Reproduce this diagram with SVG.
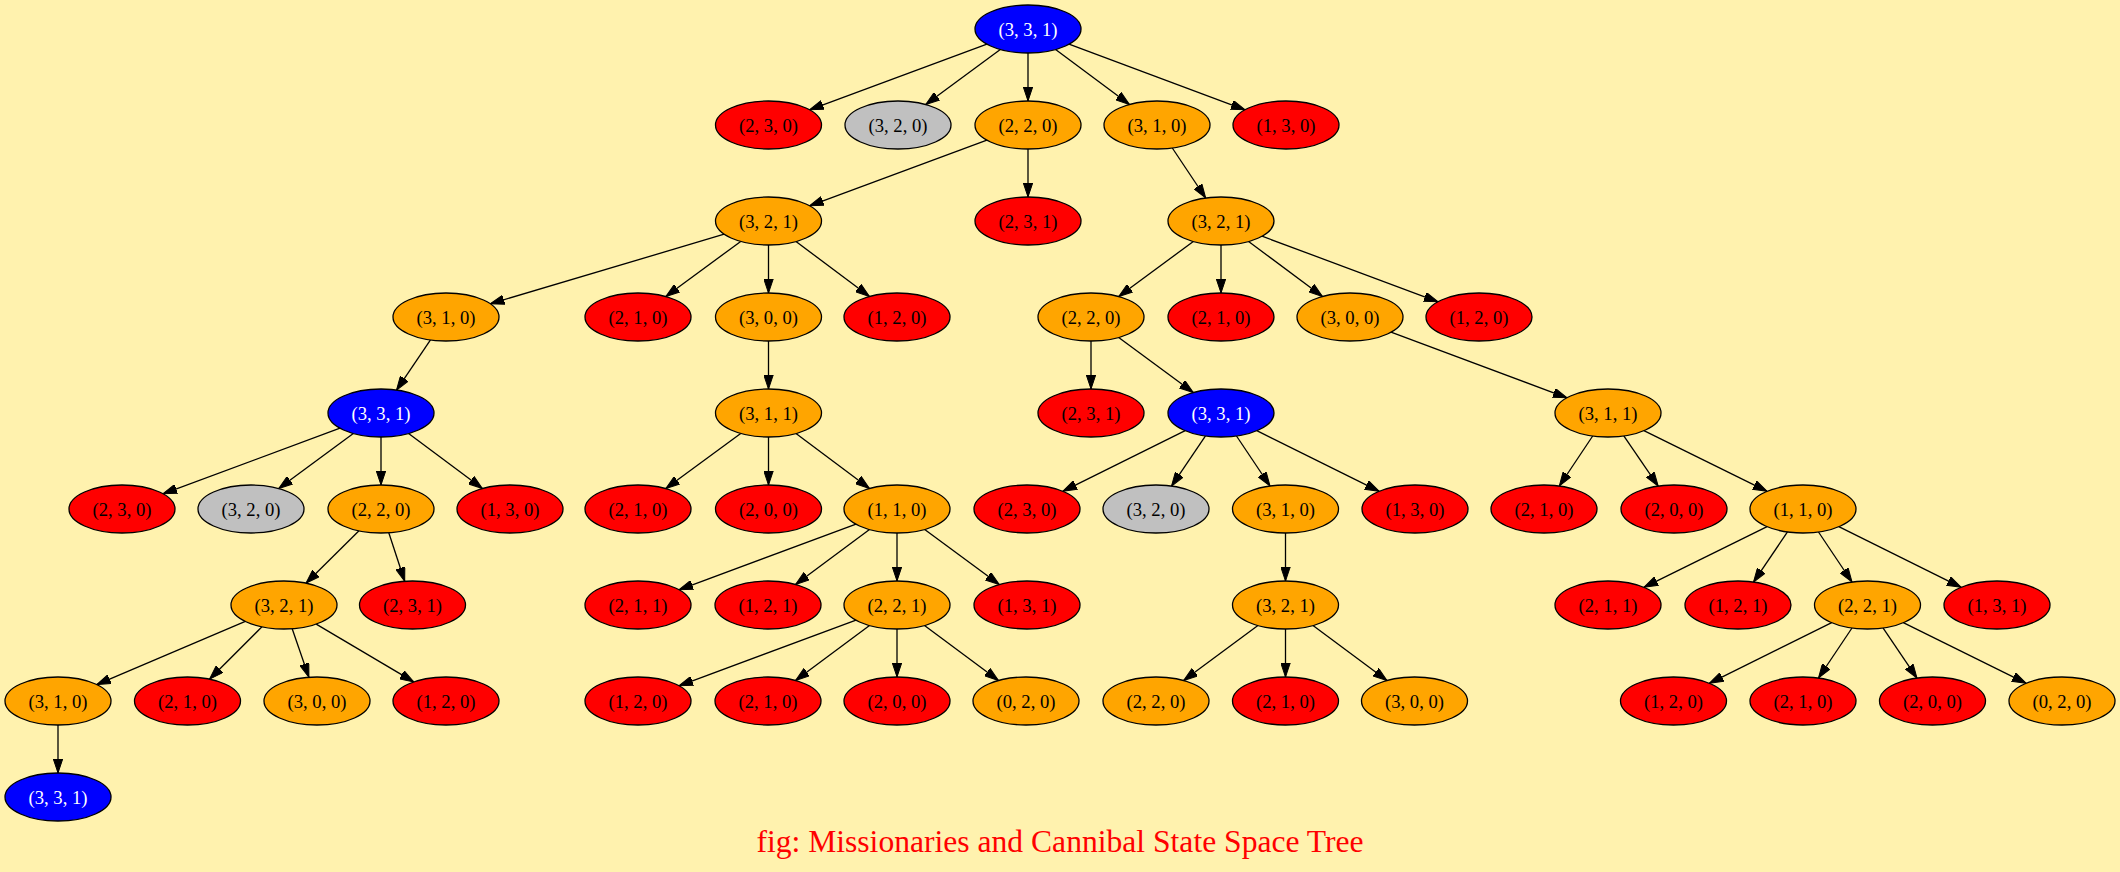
<svg xmlns="http://www.w3.org/2000/svg" width="2120" height="872" viewBox="0 0 2120 872">
<style>
.node ellipse{stroke:#000;stroke-width:1.3}
.b{fill:#0000ff}.r{fill:#ff0000}.o{fill:#ffa500}.g{fill:#c0c0c0}
.node text{font-family:"Liberation Serif","Times New Roman",serif;font-size:18.67px;text-anchor:middle;fill:#000}
.node text.w{fill:#fff}
#edges path{stroke:#000;stroke-width:1.3;fill:none;marker-end:url(#arr)}
.title{font-family:"Liberation Serif","Times New Roman",serif;font-size:31.6px;fill:#ff0000;text-anchor:middle}
</style>
<defs>
<marker id="arr" viewBox="0 0 14 10" markerWidth="14" markerHeight="10" refX="14" refY="5" orient="auto" markerUnits="userSpaceOnUse">
<path d="M0,0.3 L14,5 L0,9.7 z" fill="#000" stroke="#000" stroke-width="1"/>
</marker>
</defs>
<rect x="0" y="0" width="2120" height="872" fill="#fff2ae"/>
<g id="edges">
<path d="M986.9,44.2 L809.6,109.8"/>
<path d="M1000.3,49.5 L925.7,104.5"/>
<path d="M1028,53 L1028,101"/>
<path d="M1055.6,49.5 L1129.5,104.5"/>
<path d="M1069,44.2 L1245,109.8"/>
<path d="M986.9,140.2 L809.6,205.8"/>
<path d="M1028,149 L1028,197"/>
<path d="M1172.3,148 L1205.7,198"/>
<path d="M724.2,234.2 L490.3,303.8"/>
<path d="M740.7,241.4 L665.8,296.6"/>
<path d="M768.5,245 L768.5,293"/>
<path d="M796,241.5 L869.5,296.5"/>
<path d="M1193.3,241.5 L1118.7,296.5"/>
<path d="M1221,245 L1221,293"/>
<path d="M1248.6,241.5 L1322.5,296.5"/>
<path d="M1262,236.2 L1438,301.8"/>
<path d="M430.5,339.9 L396.5,390.1"/>
<path d="M768.5,341 L768.5,389"/>
<path d="M1091,341 L1091,389"/>
<path d="M1118.7,337.5 L1193.3,392.5"/>
<path d="M1391,332.2 L1567,397.8"/>
<path d="M340,428.2 L163,493.8"/>
<path d="M353.3,433.5 L278.7,488.5"/>
<path d="M381,437 L381,485"/>
<path d="M408.6,433.5 L482.4,488.5"/>
<path d="M740.7,433.4 L665.8,488.6"/>
<path d="M768.5,437 L768.5,485"/>
<path d="M796,433.5 L869.5,488.5"/>
<path d="M1185.2,430.7 L1062.8,491.3"/>
<path d="M1205.5,435.9 L1171.5,486.1"/>
<path d="M1236.5,436 L1270,486"/>
<path d="M1256.8,430.7 L1379.2,491.3"/>
<path d="M1592.7,436 L1559.3,486"/>
<path d="M1623.8,435.9 L1658.2,486.1"/>
<path d="M1643.9,430.7 L1767.1,491.3"/>
<path d="M359,530.8 L306,583.2"/>
<path d="M388.8,532.7 L404.7,581.3"/>
<path d="M856,524.2 L679,589.8"/>
<path d="M869.5,529.5 L795.5,584.5"/>
<path d="M897,533 L897,581"/>
<path d="M924.7,529.5 L999.3,584.5"/>
<path d="M1285.5,533 L1285.5,581"/>
<path d="M1767.1,526.7 L1643.9,587.3"/>
<path d="M1787.5,531.9 L1753.5,582.1"/>
<path d="M1818.5,532 L1852,582"/>
<path d="M1838.8,526.7 L1961.2,587.3"/>
<path d="M245.3,621.4 L96.7,684.6"/>
<path d="M262,626.8 L209.5,679.2"/>
<path d="M292.2,628.7 L308.9,677.3"/>
<path d="M316.2,624.1 L413.8,681.9"/>
<path d="M856,620.2 L679,685.8"/>
<path d="M869.5,625.5 L795.5,680.5"/>
<path d="M897,629 L897,677"/>
<path d="M924.5,625.5 L998.5,680.5"/>
<path d="M1257.9,625.5 L1183.6,680.5"/>
<path d="M1285.5,629 L1285.5,677"/>
<path d="M1313,625.5 L1387,680.5"/>
<path d="M1831.7,622.7 L1709.3,683.3"/>
<path d="M1852,628 L1818.5,678"/>
<path d="M1883,627.9 L1917,678.1"/>
<path d="M1903.3,622.7 L2026.2,683.3"/>
<path d="M58,725 L58,773"/>
</g>
<g id="n0" class="node"><ellipse cx="1028" cy="29" rx="53" ry="24" class="b"/><text x="1028" y="35.5" class="w">(3, 3, 1)</text></g>
<g id="n1" class="node"><ellipse cx="768.5" cy="125" rx="53" ry="24" class="r"/><text x="768.5" y="131.5">(2, 3, 0)</text></g>
<g id="n2" class="node"><ellipse cx="898" cy="125" rx="53" ry="24" class="g"/><text x="898" y="131.5">(3, 2, 0)</text></g>
<g id="n3" class="node"><ellipse cx="1028" cy="125" rx="53" ry="24" class="o"/><text x="1028" y="131.5">(2, 2, 0)</text></g>
<g id="n4" class="node"><ellipse cx="1157" cy="125" rx="53" ry="24" class="o"/><text x="1157" y="131.5">(3, 1, 0)</text></g>
<g id="n5" class="node"><ellipse cx="1286" cy="125" rx="53" ry="24" class="r"/><text x="1286" y="131.5">(1, 3, 0)</text></g>
<g id="n6" class="node"><ellipse cx="768.5" cy="221" rx="53" ry="24" class="o"/><text x="768.5" y="227.5">(3, 2, 1)</text></g>
<g id="n7" class="node"><ellipse cx="1028" cy="221" rx="53" ry="24" class="r"/><text x="1028" y="227.5">(2, 3, 1)</text></g>
<g id="n8" class="node"><ellipse cx="1221" cy="221" rx="53" ry="24" class="o"/><text x="1221" y="227.5">(3, 2, 1)</text></g>
<g id="n9" class="node"><ellipse cx="446" cy="317" rx="53" ry="24" class="o"/><text x="446" y="323.5">(3, 1, 0)</text></g>
<g id="n10" class="node"><ellipse cx="638" cy="317" rx="53" ry="24" class="r"/><text x="638" y="323.5">(2, 1, 0)</text></g>
<g id="n11" class="node"><ellipse cx="768.5" cy="317" rx="53" ry="24" class="o"/><text x="768.5" y="323.5">(3, 0, 0)</text></g>
<g id="n12" class="node"><ellipse cx="897" cy="317" rx="53" ry="24" class="r"/><text x="897" y="323.5">(1, 2, 0)</text></g>
<g id="n13" class="node"><ellipse cx="1091" cy="317" rx="53" ry="24" class="o"/><text x="1091" y="323.5">(2, 2, 0)</text></g>
<g id="n14" class="node"><ellipse cx="1221" cy="317" rx="53" ry="24" class="r"/><text x="1221" y="323.5">(2, 1, 0)</text></g>
<g id="n15" class="node"><ellipse cx="1350" cy="317" rx="53" ry="24" class="o"/><text x="1350" y="323.5">(3, 0, 0)</text></g>
<g id="n16" class="node"><ellipse cx="1479" cy="317" rx="53" ry="24" class="r"/><text x="1479" y="323.5">(1, 2, 0)</text></g>
<g id="n17" class="node"><ellipse cx="381" cy="413" rx="53" ry="24" class="b"/><text x="381" y="419.5" class="w">(3, 3, 1)</text></g>
<g id="n18" class="node"><ellipse cx="768.5" cy="413" rx="53" ry="24" class="o"/><text x="768.5" y="419.5">(3, 1, 1)</text></g>
<g id="n19" class="node"><ellipse cx="1091" cy="413" rx="53" ry="24" class="r"/><text x="1091" y="419.5">(2, 3, 1)</text></g>
<g id="n20" class="node"><ellipse cx="1221" cy="413" rx="53" ry="24" class="b"/><text x="1221" y="419.5" class="w">(3, 3, 1)</text></g>
<g id="n21" class="node"><ellipse cx="1608" cy="413" rx="53" ry="24" class="o"/><text x="1608" y="419.5">(3, 1, 1)</text></g>
<g id="n22" class="node"><ellipse cx="122" cy="509" rx="53" ry="24" class="r"/><text x="122" y="515.5">(2, 3, 0)</text></g>
<g id="n23" class="node"><ellipse cx="251" cy="509" rx="53" ry="24" class="g"/><text x="251" y="515.5">(3, 2, 0)</text></g>
<g id="n24" class="node"><ellipse cx="381" cy="509" rx="53" ry="24" class="o"/><text x="381" y="515.5">(2, 2, 0)</text></g>
<g id="n25" class="node"><ellipse cx="510" cy="509" rx="53" ry="24" class="r"/><text x="510" y="515.5">(1, 3, 0)</text></g>
<g id="n26" class="node"><ellipse cx="638" cy="509" rx="53" ry="24" class="r"/><text x="638" y="515.5">(2, 1, 0)</text></g>
<g id="n27" class="node"><ellipse cx="768.5" cy="509" rx="53" ry="24" class="r"/><text x="768.5" y="515.5">(2, 0, 0)</text></g>
<g id="n28" class="node"><ellipse cx="897" cy="509" rx="53" ry="24" class="o"/><text x="897" y="515.5">(1, 1, 0)</text></g>
<g id="n29" class="node"><ellipse cx="1027" cy="509" rx="53" ry="24" class="r"/><text x="1027" y="515.5">(2, 3, 0)</text></g>
<g id="n30" class="node"><ellipse cx="1156" cy="509" rx="53" ry="24" class="g"/><text x="1156" y="515.5">(3, 2, 0)</text></g>
<g id="n31" class="node"><ellipse cx="1285.5" cy="509" rx="53" ry="24" class="o"/><text x="1285.5" y="515.5">(3, 1, 0)</text></g>
<g id="n32" class="node"><ellipse cx="1415" cy="509" rx="53" ry="24" class="r"/><text x="1415" y="515.5">(1, 3, 0)</text></g>
<g id="n33" class="node"><ellipse cx="1544" cy="509" rx="53" ry="24" class="r"/><text x="1544" y="515.5">(2, 1, 0)</text></g>
<g id="n34" class="node"><ellipse cx="1674" cy="509" rx="53" ry="24" class="r"/><text x="1674" y="515.5">(2, 0, 0)</text></g>
<g id="n35" class="node"><ellipse cx="1803" cy="509" rx="53" ry="24" class="o"/><text x="1803" y="515.5">(1, 1, 0)</text></g>
<g id="n36" class="node"><ellipse cx="284" cy="605" rx="53" ry="24" class="o"/><text x="284" y="611.5">(3, 2, 1)</text></g>
<g id="n37" class="node"><ellipse cx="412.5" cy="605" rx="53" ry="24" class="r"/><text x="412.5" y="611.5">(2, 3, 1)</text></g>
<g id="n38" class="node"><ellipse cx="638" cy="605" rx="53" ry="24" class="r"/><text x="638" y="611.5">(2, 1, 1)</text></g>
<g id="n39" class="node"><ellipse cx="768" cy="605" rx="53" ry="24" class="r"/><text x="768" y="611.5">(1, 2, 1)</text></g>
<g id="n40" class="node"><ellipse cx="897" cy="605" rx="53" ry="24" class="o"/><text x="897" y="611.5">(2, 2, 1)</text></g>
<g id="n41" class="node"><ellipse cx="1027" cy="605" rx="53" ry="24" class="r"/><text x="1027" y="611.5">(1, 3, 1)</text></g>
<g id="n42" class="node"><ellipse cx="1285.5" cy="605" rx="53" ry="24" class="o"/><text x="1285.5" y="611.5">(3, 2, 1)</text></g>
<g id="n43" class="node"><ellipse cx="1608" cy="605" rx="53" ry="24" class="r"/><text x="1608" y="611.5">(2, 1, 1)</text></g>
<g id="n44" class="node"><ellipse cx="1738" cy="605" rx="53" ry="24" class="r"/><text x="1738" y="611.5">(1, 2, 1)</text></g>
<g id="n45" class="node"><ellipse cx="1867.5" cy="605" rx="53" ry="24" class="o"/><text x="1867.5" y="611.5">(2, 2, 1)</text></g>
<g id="n46" class="node"><ellipse cx="1997" cy="605" rx="53" ry="24" class="r"/><text x="1997" y="611.5">(1, 3, 1)</text></g>
<g id="n47" class="node"><ellipse cx="58" cy="701" rx="53" ry="24" class="o"/><text x="58" y="707.5">(3, 1, 0)</text></g>
<g id="n48" class="node"><ellipse cx="187.5" cy="701" rx="53" ry="24" class="r"/><text x="187.5" y="707.5">(2, 1, 0)</text></g>
<g id="n49" class="node"><ellipse cx="317" cy="701" rx="53" ry="24" class="o"/><text x="317" y="707.5">(3, 0, 0)</text></g>
<g id="n50" class="node"><ellipse cx="446" cy="701" rx="53" ry="24" class="r"/><text x="446" y="707.5">(1, 2, 0)</text></g>
<g id="n51" class="node"><ellipse cx="638" cy="701" rx="53" ry="24" class="r"/><text x="638" y="707.5">(1, 2, 0)</text></g>
<g id="n52" class="node"><ellipse cx="768" cy="701" rx="53" ry="24" class="r"/><text x="768" y="707.5">(2, 1, 0)</text></g>
<g id="n53" class="node"><ellipse cx="897" cy="701" rx="53" ry="24" class="r"/><text x="897" y="707.5">(2, 0, 0)</text></g>
<g id="n54" class="node"><ellipse cx="1026" cy="701" rx="53" ry="24" class="o"/><text x="1026" y="707.5">(0, 2, 0)</text></g>
<g id="n55" class="node"><ellipse cx="1156" cy="701" rx="53" ry="24" class="o"/><text x="1156" y="707.5">(2, 2, 0)</text></g>
<g id="n56" class="node"><ellipse cx="1285.5" cy="701" rx="53" ry="24" class="r"/><text x="1285.5" y="707.5">(2, 1, 0)</text></g>
<g id="n57" class="node"><ellipse cx="1414.5" cy="701" rx="53" ry="24" class="o"/><text x="1414.5" y="707.5">(3, 0, 0)</text></g>
<g id="n58" class="node"><ellipse cx="1673.5" cy="701" rx="53" ry="24" class="r"/><text x="1673.5" y="707.5">(1, 2, 0)</text></g>
<g id="n59" class="node"><ellipse cx="1803" cy="701" rx="53" ry="24" class="r"/><text x="1803" y="707.5">(2, 1, 0)</text></g>
<g id="n60" class="node"><ellipse cx="1932.5" cy="701" rx="53" ry="24" class="r"/><text x="1932.5" y="707.5">(2, 0, 0)</text></g>
<g id="n61" class="node"><ellipse cx="2062" cy="701" rx="53" ry="24" class="o"/><text x="2062" y="707.5">(0, 2, 0)</text></g>
<g id="n62" class="node"><ellipse cx="58" cy="797" rx="53" ry="24" class="b"/><text x="58" y="803.5" class="w">(3, 3, 1)</text></g>
<text class="title" x="1060" y="852">fig: Missionaries and Cannibal State Space Tree</text>
</svg>
